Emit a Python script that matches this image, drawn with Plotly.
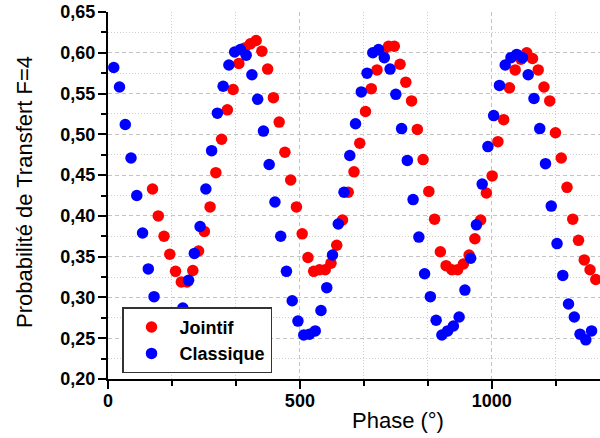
import plotly.graph_objects as go

# ---- data ----
classique_phase = [15, 30, 45, 60, 75, 90, 105, 120, 135, 150, 165, 180, 195, 210, 225, 240,
                   255, 270, 285, 300, 315, 330, 345, 360, 375, 390, 405, 420, 435, 450, 465,
                   480, 495, 510, 525, 540, 555, 570, 585, 600, 615, 630, 645, 660, 675, 690,
                   705, 720, 735, 750, 765, 780, 795, 810, 825, 840, 855, 870, 885, 900, 915,
                   930, 945, 960, 975, 990, 1005, 1020, 1035, 1050, 1065, 1080, 1095, 1110,
                   1125, 1140, 1155, 1170, 1185, 1200, 1215, 1230, 1245, 1260]
classique_prob = [0.582, 0.558, 0.512, 0.471, 0.425, 0.379, 0.335, 0.301, 0.275, 0.262, 0.257,
                  0.268, 0.287, 0.321, 0.354, 0.387, 0.433, 0.480, 0.526, 0.559, 0.585, 0.601,
                  0.604, 0.597, 0.573, 0.543, 0.504, 0.463, 0.417, 0.375, 0.332, 0.296, 0.271,
                  0.254, 0.255, 0.259, 0.284, 0.312, 0.352, 0.390, 0.429, 0.474, 0.513, 0.552,
                  0.575, 0.600, 0.604, 0.594, 0.580, 0.549, 0.507, 0.468, 0.420, 0.374, 0.329,
                  0.301, 0.272, 0.254, 0.259, 0.265, 0.276, 0.309, 0.348, 0.389, 0.439, 0.485,
                  0.523, 0.560, 0.585, 0.594, 0.598, 0.594, 0.573, 0.544, 0.507, 0.464, 0.412,
                  0.366, 0.327, 0.292, 0.276, 0.255, 0.248, 0.259]

jointif_phase = [116, 131, 146, 161, 176, 191, 206, 221, 236, 251, 266, 281, 296, 311, 326,
                 341, 356, 371, 386, 401, 416, 431, 446, 461, 476, 491, 506, 521, 536, 551,
                 566, 581, 596, 611, 626, 641, 656, 671, 686, 701, 716, 731, 746, 761, 776,
                 791, 806, 821, 836, 851, 866, 881, 896, 911, 926, 941, 956, 971, 986, 1001,
                 1016, 1031, 1046, 1061, 1076, 1091, 1106, 1121, 1136, 1151, 1166, 1181, 1196,
                 1211, 1226, 1241, 1256, 1271]
jointif_prob = [0.433, 0.400, 0.375, 0.353, 0.332, 0.319, 0.319, 0.333, 0.357, 0.381, 0.411,
                0.453, 0.494, 0.530, 0.555, 0.587, 0.606, 0.611, 0.615, 0.602, 0.580, 0.545,
                0.515, 0.478, 0.444, 0.411, 0.378, 0.349, 0.332, 0.334, 0.334, 0.342, 0.364,
                0.395, 0.429, 0.454, 0.489, 0.528, 0.556, 0.579, 0.601, 0.608, 0.608, 0.586,
                0.564, 0.541, 0.506, 0.469, 0.430, 0.396, 0.356, 0.339, 0.334, 0.334, 0.341,
                0.352, 0.372, 0.395, 0.428, 0.449, 0.491, 0.518, 0.557, 0.579, 0.592, 0.600,
                0.593, 0.579, 0.558, 0.541, 0.502, 0.471, 0.435, 0.396, 0.370, 0.346, 0.334,
                0.322]

x_tickvals = [0, 500, 1000]
x_ticktext = ["0", "500", "1000"]
x_minorvals = [166.67, 333.33, 666.67, 833.33, 1166.67]
y_tickvals = [0.20, 0.25, 0.30, 0.35, 0.40, 0.45, 0.50, 0.55, 0.60, 0.65]
y_ticktext = ["0,20", "0,25", "0,30", "0,35", "0,40", "0,45", "0,50", "0,55", "0,60", "0,65"]
y_minorvals = [0.225, 0.275, 0.325, 0.375, 0.425, 0.475, 0.525, 0.575, 0.625]

x_range = [0, 1282]
y_range = [0.2, 0.65]

FONT = "Liberation Sans, Arial, sans-serif"
tickfont = dict(family=FONT, size=18, color="black", weight="bold")

fig = go.Figure()
fig.add_trace(go.Scatter(x=jointif_phase, y=jointif_prob, mode="markers", name="Jointif",
                         marker=dict(color="#ff0000", size=11.5, line=dict(width=0))))
fig.add_trace(go.Scatter(x=classique_phase, y=classique_prob, mode="markers", name="Classique",
                         marker=dict(color="#0000ff", size=11.5, line=dict(width=0))))

fig.update_layout(
    width=600, height=438,
    margin=dict(l=108, r=0, t=12, b=59),
    plot_bgcolor="white", paper_bgcolor="white",
    font=dict(family=FONT, color="black"),
    xaxis=dict(range=x_range, showline=True, linecolor="black", linewidth=2,
               ticks="outside", ticklen=8, tickwidth=1.5, tickcolor="black",
               tickvals=x_tickvals, ticktext=x_ticktext, tickfont=tickfont,
               showgrid=True, gridcolor="#c4c4c4", griddash="4px,3px", gridwidth=1,
               zeroline=False, ticklabelstandoff=-4,
               minor=dict(tickvals=x_minorvals, ticks="outside", ticklen=5, tickwidth=1.5,
                          tickcolor="black", showgrid=True, gridcolor="#cfcfcf",
                          griddash="1px,2px", gridwidth=1)),
    yaxis=dict(range=y_range, showline=True, linecolor="black", linewidth=2,
               ticks="outside", ticklen=8, tickwidth=1.5, tickcolor="black",
               tickvals=y_tickvals, ticktext=y_ticktext, tickfont=tickfont,
               showgrid=True, gridcolor="#c4c4c4", griddash="4px,3px", gridwidth=1,
               zeroline=False, ticklabelstandoff=-1,
               minor=dict(tickvals=y_minorvals, ticks="outside", ticklen=5, tickwidth=1.5,
                          tickcolor="black", showgrid=True, gridcolor="#cfcfcf",
                          griddash="1px,2px", gridwidth=1)),
    xaxis2=dict(range=x_range, overlaying="x", side="top", anchor="y",
                showline=True, linecolor="black", linewidth=2,
                ticks="inside", ticklen=8, tickwidth=1.5, tickcolor="black",
                tickvals=x_tickvals, showticklabels=False, showgrid=False, zeroline=False,
                minor=dict(tickvals=x_minorvals, ticks="inside", ticklen=5, tickwidth=1.5,
                           tickcolor="black", showgrid=False)),
    yaxis2=dict(range=y_range, overlaying="y", side="right", anchor="x",
                showline=False, ticks="inside", ticklen=3, tickwidth=1.5, tickcolor="black",
                tickvals=y_tickvals, showticklabels=False, showgrid=False, zeroline=False),
    legend=dict(x=0.0285, y=0.1954, xanchor="left", yanchor="top",
                bgcolor="white", bordercolor="#333333", borderwidth=1.5,
                font=dict(family=FONT, size=18, color="black", weight="bold"),
                itemwidth=46, tracegroupgap=0),
    annotations=[
        dict(text="Phase (°)", xref="paper", yref="paper", x=(397.7 - 108) / 492,
             y=(379 - 421) / 367, xanchor="center", yanchor="middle", showarrow=False,
             font=dict(family=FONT, size=22, color="black")),
        dict(text="Probabilité de Transfert F=4", xref="paper", yref="paper",
             x=(24 - 108) / 492, y=(379 - 192) / 367, xanchor="center", yanchor="middle",
             textangle=-90, showarrow=False,
             font=dict(family=FONT, size=22, color="black")),
    ],
)

fig.write_html("out.html",
               config={"displayModeBar": False},
               post_script="document.body.style.margin='0';document.body.style.overflow='hidden';")
